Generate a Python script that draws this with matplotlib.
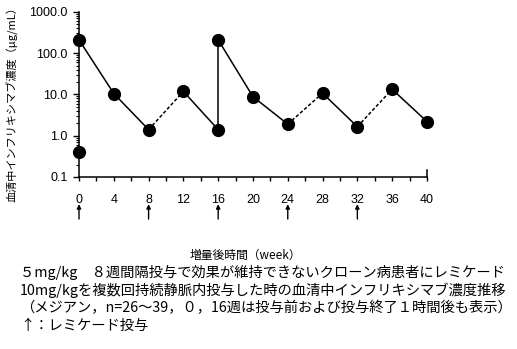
import numpy as np
import matplotlib
matplotlib.use("Agg")
import matplotlib.pyplot as plt
from matplotlib.ticker import LogLocator, FixedLocator, NullFormatter

plt.rcParams['font.family'] = ['Noto Sans CJK JP', 'DejaVu Sans']

# serum infliximab concentration (median), ug/mL
weeks = [0, 4, 8, 12, 16, 16, 20, 24, 28, 32, 36, 40]
conc = [210, 10.5, 1.4, 11.8, 1.4, 210, 8.8, 1.9, 10.7, 1.65, 13.3, 2.2]
# line style of each segment between consecutive points
seg_style = ["-", "-", "--", "-", "-", "-", "-", "--", "-", "--", "-"]
pre_dose_week = [0]
pre_dose_conc = [0.4]

dose_weeks = [0, 8, 16, 24, 32]
xticks = [0, 4, 8, 12, 16, 20, 24, 28, 32, 36, 40]
yticks = [0.1, 1, 10, 100, 1000]
ytick_labels = ["0.1", "1.0", "10.0", "100.0", "1000.0"]

caption = [
    "５mg/kg　８週間隔投与で効果が維持できないクローン病患者にレミケード",
    "10mg/kgを複数回持続静脈内投与した時の血清中インフリキシマブ濃度推移",
    "（メジアン，n=26～39，０，16週は投与前および投与終了１時間後も表示）",
    "↑：レミケード投与",
]

fig = plt.figure(figsize=(5.17, 3.49), dpi=100)
ax = fig.add_axes([0.1528, 0.493, 0.673, 0.473])

for i, ls in enumerate(seg_style):
    ax.plot(weeks[i:i + 2], conc[i:i + 2], ls=ls, color="black", lw=1.1,
            dashes=(2.2, 1.4) if ls == "--" else (None, None), clip_on=False)
ax.plot(weeks, conc, "o", color="black", ms=8.5, clip_on=False, zorder=5)
ax.plot(pre_dose_week, pre_dose_conc, "o", color="black", ms=8.5,
        clip_on=False, zorder=5)

ax.set_yscale("log")
ax.set_ylim(0.1, 1000)
ax.set_xlim(0, 40)
ax.set_yticks(yticks)
ax.set_yticklabels(ytick_labels)
ax.yaxis.set_minor_locator(LogLocator(base=10, subs=np.arange(2, 10)))
ax.yaxis.set_minor_formatter(NullFormatter())
ax.set_xticks(xticks)
ax.xaxis.set_minor_locator(FixedLocator(np.arange(2, 40, 4)))

for s in ["top", "right"]:
    ax.spines[s].set_visible(False)
ax.spines["left"].set_linewidth(1.1)
ax.spines["bottom"].set_linewidth(1.1)
ax.tick_params(axis="x", which="both", direction="out", length=3, width=1,
               labelsize=9, pad=9)
ax.tick_params(axis="y", which="major", direction="out", length=4, width=1,
               labelsize=9, pad=4)
ax.tick_params(axis="y", which="minor", direction="out", length=2, width=0.8)
for lab in ax.get_xticklabels() + ax.get_yticklabels():
    lab.set_family(["Liberation Sans", "DejaVu Sans"])
ax.axvline(40, ymin=0, ymax=0.04, color="black", lw=1.1, clip_on=False)

# dosing arrows below the axis
for w in dose_weeks:
    ax.annotate("", xy=(w, -0.165), xytext=(w, -0.255),
                xycoords=("data", "axes fraction"),
                textcoords=("data", "axes fraction"),
                arrowprops=dict(arrowstyle="-|>", color="black", lw=1,
                                mutation_scale=6, shrinkA=0, shrinkB=0))

fig.text(245 / 517, 1 - 255 / 349, "増量後時間（week）", ha="center",
         va="center", fontsize=8.5)
fig.text(12 / 517, 1 - 102 / 349, "血清中インフリキシマブ濃度（μg/mL）",
         rotation=90, ha="center", va="center", fontsize=8)

for i, line in enumerate(caption):
    fig.text(20 / 517, 1 - (272 + i * 18) / 349, line, ha="left",
             va="center", fontsize=10.3)

fig.savefig("out.png", dpi=100)
